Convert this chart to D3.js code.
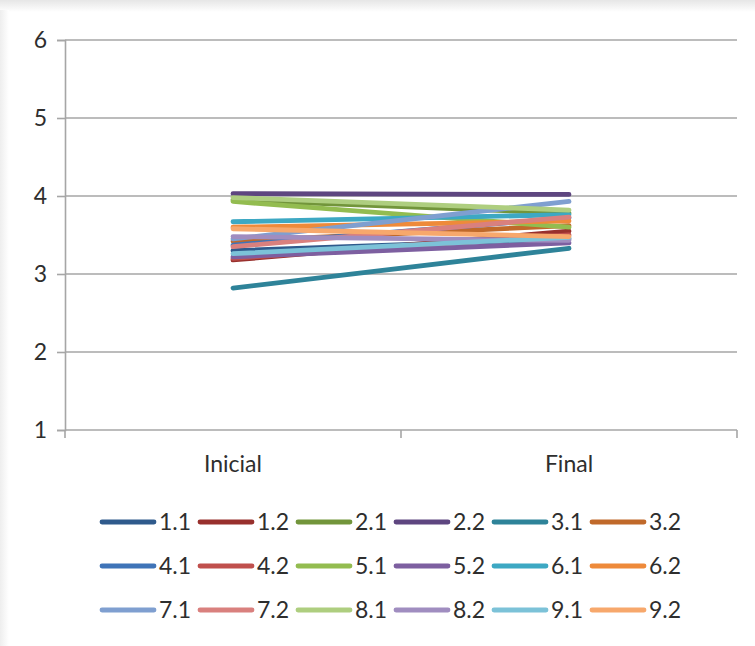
<!DOCTYPE html>
<html>
<head>
<meta charset="utf-8">
<script src="https://cdn.jsdelivr.net/npm/d3@7"></script>
<style>
  html, body { margin: 0; padding: 0; background: #fff; }
  svg { display: block; }
  text { font-family: Lato, "Open Sans", sans-serif; fill: #2e2e2e; }
</style>
</head>
<body>
<svg id="chart" width="755" height="646"></svg>
<script>
// Categories on the x axis
const categories = ["Inicial", "Final"];

// Series names, in legend order
const seriesNames = ["1.1","1.2","2.1","2.2","3.1","3.2",
                     "4.1","4.2","5.1","5.2","6.1","6.2",
                     "7.1","7.2","8.1","8.2","9.1","9.2"];

// Values per series: [Inicial, Final]
const inicialValues = [3.30, 3.18, 3.95, 4.03, 2.82, 3.42,
                       3.37, 3.20, 3.93, 3.22, 3.67, 3.60,
                       3.45, 3.35, 3.98, 3.48, 3.26, 3.58];
const finalValues   = [3.45, 3.55, 3.78, 4.02, 3.33, 3.62,
                       3.72, 3.50, 3.60, 3.40, 3.76, 3.68,
                       3.93, 3.73, 3.82, 3.43, 3.47, 3.48];

// Series colours
const seriesColors = ["#2F5A8C","#98302D","#72953B","#5E4680","#2E8399","#C0692A",
                      "#3F74B8","#C0504D","#93BC50","#7D5FA0","#3DA8C3","#EE8A3A",
                      "#7F9FD0","#D9807E","#AECE7F","#A08DC0","#7CC2D8","#F7A86C"];

// Y axis ticks
const yTicks = [1, 2, 3, 4, 5, 6];

const fontSize = 23;

const svg = d3.select("#chart");

// soft frame shading along the top and left edges
const defs = svg.append("defs");
const gTop = defs.append("linearGradient").attr("id", "shadeTop")
  .attr("x1", 0).attr("y1", 0).attr("x2", 0).attr("y2", 1);
gTop.append("stop").attr("offset", "0%").attr("stop-color", "#e6e6e6");
gTop.append("stop").attr("offset", "100%").attr("stop-color", "#ffffff");
const gLeft = defs.append("linearGradient").attr("id", "shadeLeft")
  .attr("x1", 0).attr("y1", 0).attr("x2", 1).attr("y2", 0);
gLeft.append("stop").attr("offset", "0%").attr("stop-color", "#eeeeee");
gLeft.append("stop").attr("offset", "100%").attr("stop-color", "#ffffff");
svg.append("rect").attr("x", 0).attr("y", 0).attr("width", 755).attr("height", 12)
  .attr("fill", "url(#shadeTop)");
svg.append("rect").attr("x", 0).attr("y", 10).attr("width", 9).attr("height", 636)
  .attr("fill", "url(#shadeLeft)");

const plot = { left: 65, right: 737, top: 40, bottom: 430 };

const x = d3.scaleBand().domain(categories).range([plot.left, plot.right]);
const y = d3.scaleLinear().domain([1, 6]).range([plot.bottom, plot.top]);

// horizontal gridlines
svg.append("g")
  .selectAll("line")
  .data(yTicks.filter(t => t > 1))
  .join("line")
  .attr("x1", plot.left).attr("x2", plot.right)
  .attr("y1", d => y(d)).attr("y2", d => y(d))
  .attr("stroke", "#a6a6a6").attr("stroke-width", 1.6);

// y axis
const yAxis = svg.append("g")
  .attr("transform", `translate(${plot.left},0)`)
  .call(d3.axisLeft(y).tickValues(yTicks).tickSize(8).tickPadding(10).tickFormat(d3.format("d")));
yAxis.select(".domain").attr("stroke", "#a6a6a6").attr("stroke-width", 1.6);
yAxis.selectAll(".tick line").attr("stroke", "#a6a6a6").attr("stroke-width", 1.6);
yAxis.selectAll(".tick text").attr("font-size", fontSize).style("fill", "#2e2e2e")
  .attr("font-family", "Lato, 'Open Sans', sans-serif");

// x axis with tick marks at category boundaries
const xAxisG = svg.append("g").attr("transform", `translate(0,${plot.bottom})`);
xAxisG.append("line")
  .attr("x1", plot.left).attr("x2", plot.right).attr("y1", 0).attr("y2", 0)
  .attr("stroke", "#a6a6a6").attr("stroke-width", 1.6);
const boundaries = [plot.left, ...categories.map(c => x(c) + x.bandwidth())];
xAxisG.selectAll("line.tk").data(boundaries).join("line").attr("class", "tk")
  .attr("x1", d => d).attr("x2", d => d).attr("y1", 0).attr("y2", 8)
  .attr("stroke", "#a6a6a6").attr("stroke-width", 1.6);
xAxisG.selectAll("text").data(categories).join("text")
  .attr("x", d => x(d) + x.bandwidth() / 2)
  .attr("y", 42)
  .attr("text-anchor", "middle")
  .attr("font-size", fontSize)
  .text(d => d);

// series lines
const line = d3.line()
  .x(d => x(d.cat) + x.bandwidth() / 2)
  .y(d => y(d.value));

const series = seriesNames.map((name, i) => ({
  name,
  color: seriesColors[i],
  points: [
    { cat: categories[0], value: inicialValues[i] },
    { cat: categories[1], value: finalValues[i] }
  ]
}));

svg.append("g")
  .selectAll("path")
  .data(series)
  .join("path")
  .attr("d", d => line(d.points))
  .attr("fill", "none")
  .attr("stroke", d => d.color)
  .attr("stroke-width", 4.8)
  .attr("stroke-linecap", "round");

// legend: 3 rows x 6 items
const legend = svg.append("g");
const itemW = 98, rowH = 44, legX = 102, legY = 522;
const items = legend.selectAll("g").data(series).join("g")
  .attr("transform", (d, i) => `translate(${legX + (i % 6) * itemW},${legY + Math.floor(i / 6) * rowH})`);
items.append("line")
  .attr("x1", 0).attr("x2", 52).attr("y1", 0).attr("y2", 0)
  .attr("stroke", d => d.color).attr("stroke-width", 4.8).attr("stroke-linecap", "round");
items.append("text")
  .attr("x", 57).attr("y", 8)
  .attr("font-size", fontSize)
  .text(d => d.name);
</script>
</body>
</html>
